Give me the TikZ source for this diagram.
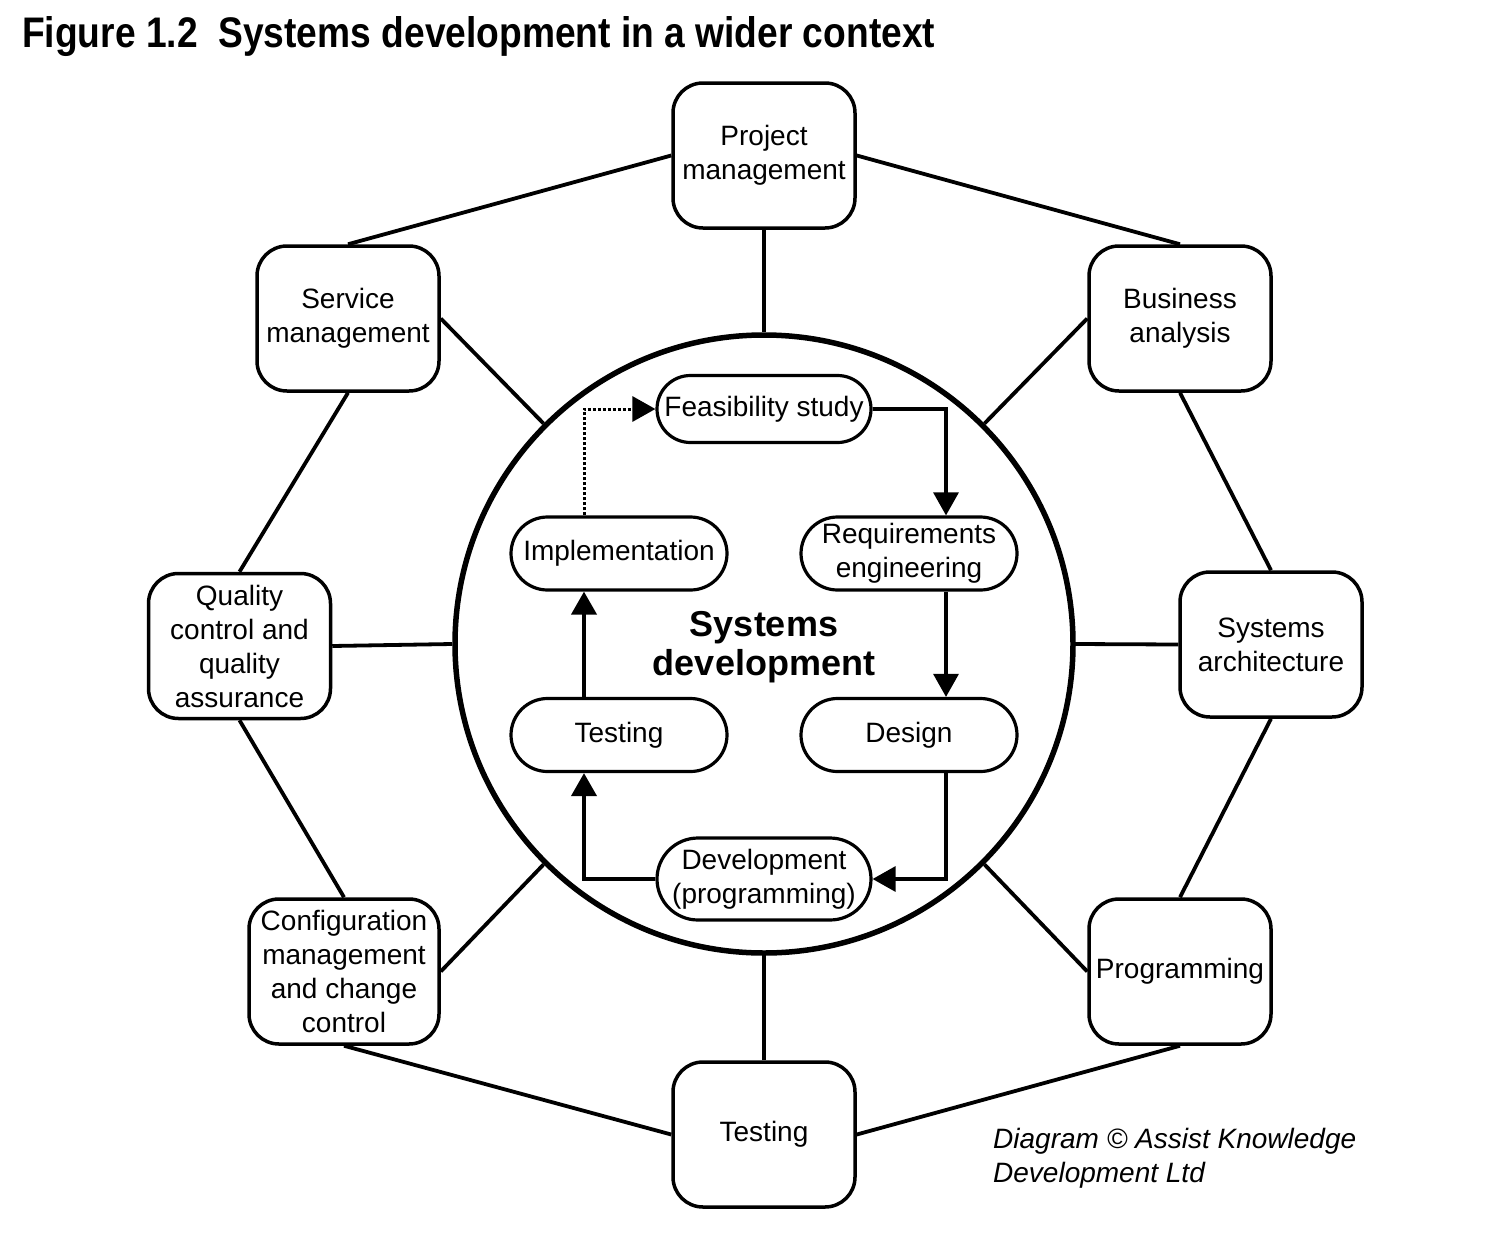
\documentclass[tikz,border=0pt]{standalone}
\usepackage{fontspec}
\setmainfont{Liberation Sans}
\usetikzlibrary{shapes.misc,arrows.meta}
\begin{document}
\begin{tikzpicture}[x=1pt,y=-1pt,
  outerbox/.style={draw, line width=3.5pt, rectangle, rounded corners=30pt,
    minimum width=182pt, minimum height=145pt, inner sep=2pt, align=center,
    font=\fontsize{28}{34}\selectfont},
  innerbox/.style={draw, line width=3.2pt, rounded rectangle,
    minimum width=216pt, minimum height=73pt, inner sep=1pt, align=center,
    font=\fontsize{28}{34}\selectfont},
  link/.style={line width=3.8pt},
  flow/.style={line width=3.2pt, -{Triangle[length=23pt,width=25pt]}},
  thickflow/.style={line width=4pt, -{Triangle[length=23pt,width=25pt]}},
  dotflow/.style={line width=3pt, dash pattern=on 3pt off 2pt, -{Triangle[length=23pt,width=25pt]}}
]
\useasboundingbox (0,0) rectangle (1486,1242);
\node[anchor=base west, inner sep=0] (title) at (22,47)
  {\resizebox{913pt}{31pt}{\bfseries Figure 1.2\ \ Systems development in a wider context}};

% central circle
\node[circle, draw, line width=5.5pt, minimum size=618pt, inner sep=0] (sd) at (764,644) {};
\node[align=center, inner sep=0, font=\fontsize{36}{39}\bfseries\selectfont] (sdlabel) at (764,647)
  {Systems\\development};

% outer boxes
\node[outerbox] (pm) at (764,155.5) {Project\\management};
\node[outerbox] (sm) at (348,318.5) {Service\\management};
\node[outerbox] (ba) at (1180,318.5) {Business\\analysis};
\node[outerbox] (qc) at (239.5,646) {Quality\\control and\\quality\\assurance};
\node[outerbox] (sa) at (1271,644.5) {Systems\\architecture};
\node[outerbox, minimum width=190pt] (cm) at (344,971.5) {Configuration\\management\\and change\\control};
\node[outerbox] (pr) at (1180,971.5) {Programming};
\node[outerbox] (te) at (764,1134.5) {Testing};

% octagon links
\draw[link] (pm.west) -- (sm.north);
\draw[link] (pm.east) -- (ba.north);
\draw[link] (sm.south) -- (qc.north);
\draw[link] (ba.south) -- (sa.north);
\draw[link] (qc.south) -- (cm.north);
\draw[link] (sa.south) -- (pr.north);
\draw[link] (cm.south) -- (te.west);
\draw[link] (pr.south) -- (te.east);

% spokes
\draw[link] (pm.south) -- (sd.north);
\draw[link] (sm.east) -- (sd.north west);
\draw[link] (ba.west) -- (sd.north east);
\draw[link] (qc.east) -- (sd.west);
\draw[link] (sa.west) -- (sd.east);
\draw[link] (cm.east) -- (sd.south west);
\draw[link] (pr.west) -- (sd.south east);
\draw[link] (te.north) -- (sd.south);

% inner cycle
\node[innerbox, minimum height=67pt] (fs) at (764,409) {Feasibility study};
\node[innerbox, minimum width=218pt] (re) at (909,553.5) {Requirements\\engineering};
\node[innerbox, minimum width=218pt] (im) at (619,553.5) {Implementation};
\node[innerbox, minimum width=218pt] (ti) at (619,735) {Testing};
\node[innerbox, minimum width=218pt] (de) at (909,735) {Design};
\node[innerbox, minimum height=82pt] (dv) at (764,879) {Development\\(programming)};

\draw[flow] (fs.east) -| ([xshift=37pt]re.north);
\draw[flow] ([xshift=37pt]re.south) -- ([xshift=37pt]de.north);
\draw[flow] ([xshift=37pt]de.south) |- (dv.east);
\draw[thickflow] (dv.west) -| ([xshift=-35pt]ti.south);
\draw[thickflow] ([xshift=-35pt]ti.north) -- ([xshift=-35pt]im.south);
\draw[dotflow] ([xshift=-35pt]im.north) |- (fs.west);

% copyright
\node[anchor=north west, align=left, inner sep=0,
  font=\fontsize{28}{34}\itshape\selectfont] (copy) at (993,1128)
  {Diagram © Assist Knowledge\\Development Ltd};
\end{tikzpicture}
\end{document}
